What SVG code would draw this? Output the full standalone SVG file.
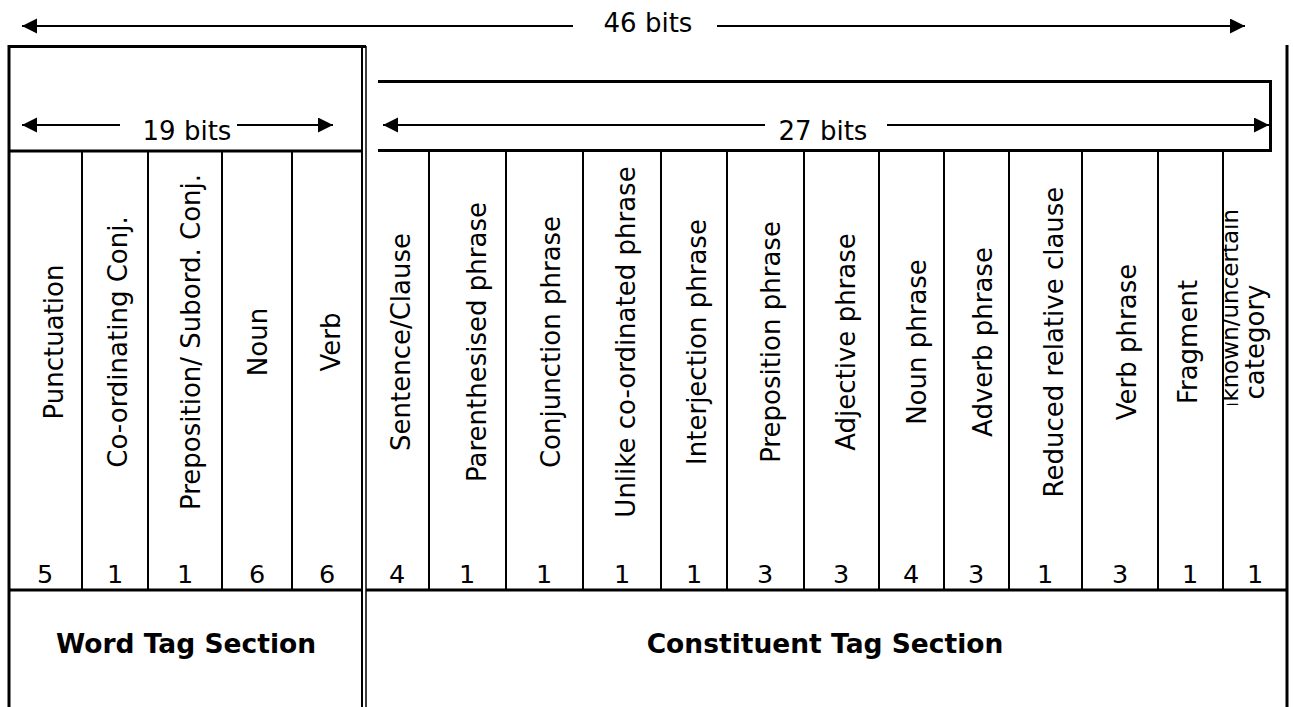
<svg xmlns="http://www.w3.org/2000/svg" width="1293" height="707" viewBox="0 0 1293 707">
  <style>
    .frame { stroke: #000; stroke-width: 3; fill: none; }
    .rule { stroke: #000; stroke-width: 2; fill: none; }
    .thin { stroke: #000; stroke-width: 1.5; fill: none; }
    .dim { stroke: #000; stroke-width: 2; fill: none; }
    .lbl { font-family: "DejaVu Sans", Verdana, sans-serif; font-size: 26px; fill: #000; text-anchor: middle; }
    .num { font-family: "DejaVu Sans", Verdana, sans-serif; font-size: 25.5px; fill: #000; text-anchor: middle; }
    .sec { font-family: "DejaVu Sans", Verdana, sans-serif; font-size: 26.5px; font-weight: bold; fill: #000; text-anchor: middle; }
  </style>
  <defs>
    <marker id="head" markerUnits="userSpaceOnUse" markerWidth="16" markerHeight="16" refX="15" refY="7.5" orient="auto-start-reverse">
      <path d="M0,0 L15,7.5 L0,15 z" fill="#000"/>
    </marker>
    <!-- the last cell is too narrow for its first line, which overflows and is cut -->
    <clipPath id="lastCell">
      <rect x="1224" y="151" width="62" height="254"/>
    </clipPath>
  </defs>
  <rect width="1293" height="707" fill="#fff"/>

  <!-- word tag section: 19 bits -->
  <g id="word-section">
    <path class="frame" d="M9,707 V46.5 H366"/>
    <line class="rule" x1="362" y1="46" x2="362" y2="707"/>
    <line class="thin" x1="366" y1="46" x2="366" y2="707"/>
    <line class="frame" x1="8" y1="151" x2="362" y2="151"/>
    <line class="frame" x1="8" y1="590" x2="362" y2="590"/>
    <g class="rule">
      <line x1="82" y1="151" x2="82" y2="590"/>
      <line x1="148" y1="151" x2="148" y2="590"/>
      <line x1="222" y1="151" x2="222" y2="590"/>
      <line x1="292" y1="151" x2="292" y2="590"/>
    </g>
    <text class="lbl" transform="translate(63,342) rotate(-90)">Punctuation</text>
    <text class="lbl" transform="translate(127,342) rotate(-90)">Co-ordinating Conj.</text>
    <text class="lbl" transform="translate(200,342) rotate(-90)">Preposition/ Subord. Conj.</text>
    <text class="lbl" transform="translate(267,342) rotate(-90)">Noun</text>
    <text class="lbl" transform="translate(340,342) rotate(-90)">Verb</text>
    <text class="num" x="45" y="583">5</text>
    <text class="num" x="115" y="583">1</text>
    <text class="num" x="185" y="583">1</text>
    <text class="num" x="257" y="583">6</text>
    <text class="num" x="327" y="583">6</text>
    <text class="sec" x="186" y="653">Word Tag Section</text>
  </g>

  <!-- constituent tag section: 27 bits -->
  <g id="constituent-section">
    <line class="frame" x1="1287" y1="45" x2="1287" y2="707"/>
    <path class="frame" d="M378,81.5 H1270.5 V150.5 H378"/>
    <line class="frame" x1="366" y1="590" x2="1287" y2="590"/>
    <g class="rule">
      <line x1="429" y1="151" x2="429" y2="590"/>
      <line x1="506" y1="151" x2="506" y2="590"/>
      <line x1="583" y1="151" x2="583" y2="590"/>
      <line x1="661" y1="151" x2="661" y2="590"/>
      <line x1="727" y1="151" x2="727" y2="590"/>
      <line x1="804" y1="151" x2="804" y2="590"/>
      <line x1="879" y1="151" x2="879" y2="590"/>
      <line x1="944" y1="151" x2="944" y2="590"/>
      <line x1="1009" y1="151" x2="1009" y2="590"/>
      <line x1="1082" y1="151" x2="1082" y2="590"/>
      <line x1="1158" y1="151" x2="1158" y2="590"/>
      <line x1="1223" y1="151" x2="1223" y2="590"/>
    </g>
    <text class="lbl" transform="translate(410,342) rotate(-90)">Sentence/Clause</text>
    <text class="lbl" transform="translate(486,342) rotate(-90)">Parenthesised phrase</text>
    <text class="lbl" transform="translate(560,342) rotate(-90)">Conjunction phrase</text>
    <text class="lbl" transform="translate(635,342) rotate(-90)">Unlike co-ordinated phrase</text>
    <text class="lbl" transform="translate(706,342) rotate(-90)">Interjection phrase</text>
    <text class="lbl" transform="translate(780,342) rotate(-90)">Preposition phrase</text>
    <text class="lbl" transform="translate(855,342) rotate(-90)">Adjective phrase</text>
    <text class="lbl" transform="translate(926,342) rotate(-90)">Noun phrase</text>
    <text class="lbl" transform="translate(992,342) rotate(-90)">Adverb phrase</text>
    <text class="lbl" transform="translate(1063,342) rotate(-90)">Reduced relative clause</text>
    <text class="lbl" transform="translate(1136,342) rotate(-90)">Verb phrase</text>
    <text class="lbl" transform="translate(1197,342) rotate(-90)">Fragment</text>
    <g clip-path="url(#lastCell)">
      <text class="lbl" style="text-anchor:end;font-size:23px" transform="translate(1238,209) rotate(-90)">Unknown/uncertain</text>
    </g>
    <text class="lbl" transform="translate(1264,342) rotate(-90)">category</text>
    <text class="num" x="397" y="583">4</text>
    <text class="num" x="467" y="583">1</text>
    <text class="num" x="544" y="583">1</text>
    <text class="num" x="622" y="583">1</text>
    <text class="num" x="694" y="583">1</text>
    <text class="num" x="765" y="583">3</text>
    <text class="num" x="841" y="583">3</text>
    <text class="num" x="911" y="583">4</text>
    <text class="num" x="976" y="583">3</text>
    <text class="num" x="1045" y="583">1</text>
    <text class="num" x="1120" y="583">3</text>
    <text class="num" x="1190" y="583">1</text>
    <text class="num" x="1255" y="583">1</text>
    <text class="sec" x="825" y="653">Constituent Tag Section</text>
  </g>

  <!-- bit-width dimension arrows -->
  <g id="connectors">
    <line class="dim" x1="573" y1="26" x2="22" y2="26" marker-end="url(#head)"/>
    <line class="dim" x1="717" y1="26" x2="1245" y2="26" marker-end="url(#head)"/>
    <line class="dim" x1="120" y1="125" x2="22" y2="125" marker-end="url(#head)"/>
    <line class="dim" x1="237" y1="125" x2="333" y2="125" marker-end="url(#head)"/>
    <line class="dim" x1="765" y1="125" x2="383" y2="125" marker-end="url(#head)"/>
    <line class="dim" x1="887" y1="125" x2="1269" y2="125" marker-end="url(#head)"/>
  </g>
  <g id="dimension-labels">
    <text class="lbl" x="648" y="32">46 bits</text>
    <text class="lbl" x="187" y="140">19 bits</text>
    <text class="lbl" x="823" y="140">27 bits</text>
  </g>
</svg>
